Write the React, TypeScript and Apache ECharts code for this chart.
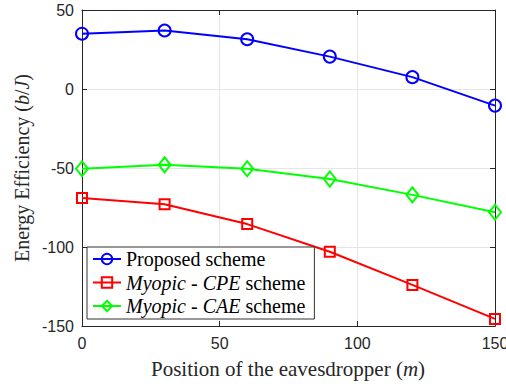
import React, { useEffect, useRef } from "react";
import * as echarts from "echarts";

// Eavesdropper positions (m)
const positions = [0, 30, 60, 90, 120, 150];

// Energy efficiency (b/J) per scheme
const proposed = [35, 37, 31.5, 20.5, 7.5, -10.5];
const myopicCPE = [-69, -73, -85.5, -103, -124, -145.5];
const myopicCAE = [-50.5, -48, -50.5, -57, -67, -78];

const seriesNames = ["Proposed scheme", "Myopic - CPE scheme", "Myopic - CAE scheme"];

const AXIS_COLOR = "#262626";
const SANS = "'Liberation Sans', Arial, Helvetica, sans-serif";
const SERIF = "'Liberation Serif', 'Times New Roman', serif";

const pairs = (ys: number[]) => positions.map((x, i) => [x, ys[i]]);

export default function App() {
  const ref = useRef<HTMLDivElement>(null);

  useEffect(() => {
    if (!ref.current) return;
    document.body.style.margin = "0";
    document.body.style.overflow = "hidden";
    const chart = echarts.init(ref.current, undefined, { renderer: "svg" });

    const hollow = (color: string) => ({
      color: "rgba(255,255,255,0)",
      borderColor: color,
      borderWidth: 2,
    });

    const baseX = {
      type: "value" as const,
      min: 0,
      max: 150,
      interval: 50,
      axisLine: { show: true, onZero: false, lineStyle: { color: AXIS_COLOR, width: 1 } },
      axisTick: { show: true, inside: true, length: 5, lineStyle: { color: AXIS_COLOR } },
    };
    const baseY = {
      type: "value" as const,
      min: -150,
      max: 50,
      interval: 50,
      axisLine: { show: true, onZero: false, lineStyle: { color: AXIS_COLOR, width: 1 } },
      axisTick: { show: true, inside: true, length: 5, lineStyle: { color: AXIS_COLOR } },
    };

    chart.setOption({
      animation: false,
      backgroundColor: "#ffffff",
      grid: {
        left: 82,
        right: 11,
        top: 10,
        bottom: 58,
        containLabel: false,
        outerBoundsMode: "none",
      },
      xAxis: [
        {
          ...baseX,
          position: "bottom",
          axisLabel: {
            show: true,
            color: AXIS_COLOR,
            fontFamily: SANS,
            fontSize: 16,
            margin: 9,
            showMinLabel: true,
            showMaxLabel: true,
            hideOverlap: false,
          },
          splitLine: { show: true, lineStyle: { color: "#e6e6e6", width: 1 } },
        },
        {
          ...baseX,
          position: "top",
          axisLabel: { show: false },
          splitLine: { show: false },
        },
      ],
      yAxis: [
        {
          ...baseY,
          position: "left",
          axisLabel: {
            show: true,
            color: AXIS_COLOR,
            fontFamily: SANS,
            fontSize: 16,
            margin: 8,
            showMinLabel: true,
            showMaxLabel: true,
          },
          splitLine: { show: true, lineStyle: { color: "#e6e6e6", width: 1 } },
        },
        {
          ...baseY,
          position: "right",
          axisLabel: { show: false },
          splitLine: { show: false },
        },
      ],
      legend: {
        orient: "vertical",
        left: 87,
        top: 247,
        padding: [2, 9, 3, 5],
        itemGap: 3.5,
        itemWidth: 28,
        itemHeight: 13,
        itemTextGap: 3,
        backgroundColor: "#ffffff",
        borderColor: "#333333",
        borderWidth: 1,
        borderRadius: 0,
        data: seriesNames,
        formatter: (name: string) => {
          if (name === seriesNames[1]) return "{i|Myopic} {i|-} {i|CPE} scheme";
          if (name === seriesNames[2]) return "{i|Myopic} {i|-} {i|CAE} scheme";
          return name;
        },
        textStyle: {
          fontFamily: SERIF,
          fontSize: 20,
          lineHeight: 20,
          color: "#000000",
          rich: {
            i: { fontFamily: SERIF, fontStyle: "italic", fontSize: 20, lineHeight: 20, color: "#000000" },
          },
        },
      },
      graphic: [
        {
          type: "text",
          x: 22,
          y: 168,
          rotation: Math.PI / 2,
          style: {
            text: "Energy Efficiency ({i|b}/{i|J})",
            fontFamily: SERIF,
            fontSize: 20,
            fill: "#262626",
            align: "center",
            verticalAlign: "middle",
            rich: {
              i: { fontFamily: SERIF, fontStyle: "italic", fontSize: 20, fill: "#262626" },
            },
          },
        },
        {
          type: "text",
          x: 288,
          y: 369,
          style: {
            text: "Position of the eavesdropper ({i|m})",
            fontFamily: SERIF,
            fontSize: 21,
            fill: "#262626",
            align: "center",
            verticalAlign: "middle",
            rich: {
              i: { fontFamily: SERIF, fontStyle: "italic", fontSize: 21, fill: "#262626" },
            },
          },
        },
      ],
      series: [
        {
          name: seriesNames[0],
          type: "line",
          data: pairs(proposed),
          symbol: "circle",
          symbolSize: 12,
          lineStyle: { color: "#0000ff", width: 2 },
          itemStyle: hollow("#0000ff"),
          z: 4,
        },
        {
          name: seriesNames[1],
          type: "line",
          data: pairs(myopicCPE),
          symbol: "rect",
          symbolSize: 10,
          lineStyle: { color: "#ff0000", width: 2 },
          itemStyle: hollow("#ff0000"),
          z: 3,
        },
        {
          name: seriesNames[2],
          type: "line",
          data: pairs(myopicCAE),
          symbol: "diamond",
          symbolSize: [12, 15],
          lineStyle: { color: "#00ff00", width: 2 },
          itemStyle: hollow("#00ff00"),
          z: 3,
        },
      ],
    });

    return () => chart.dispose();
  }, []);

  return <div ref={ref} style={{ width: 506, height: 384, position: "fixed", left: 0, top: 0 }} />;
}
